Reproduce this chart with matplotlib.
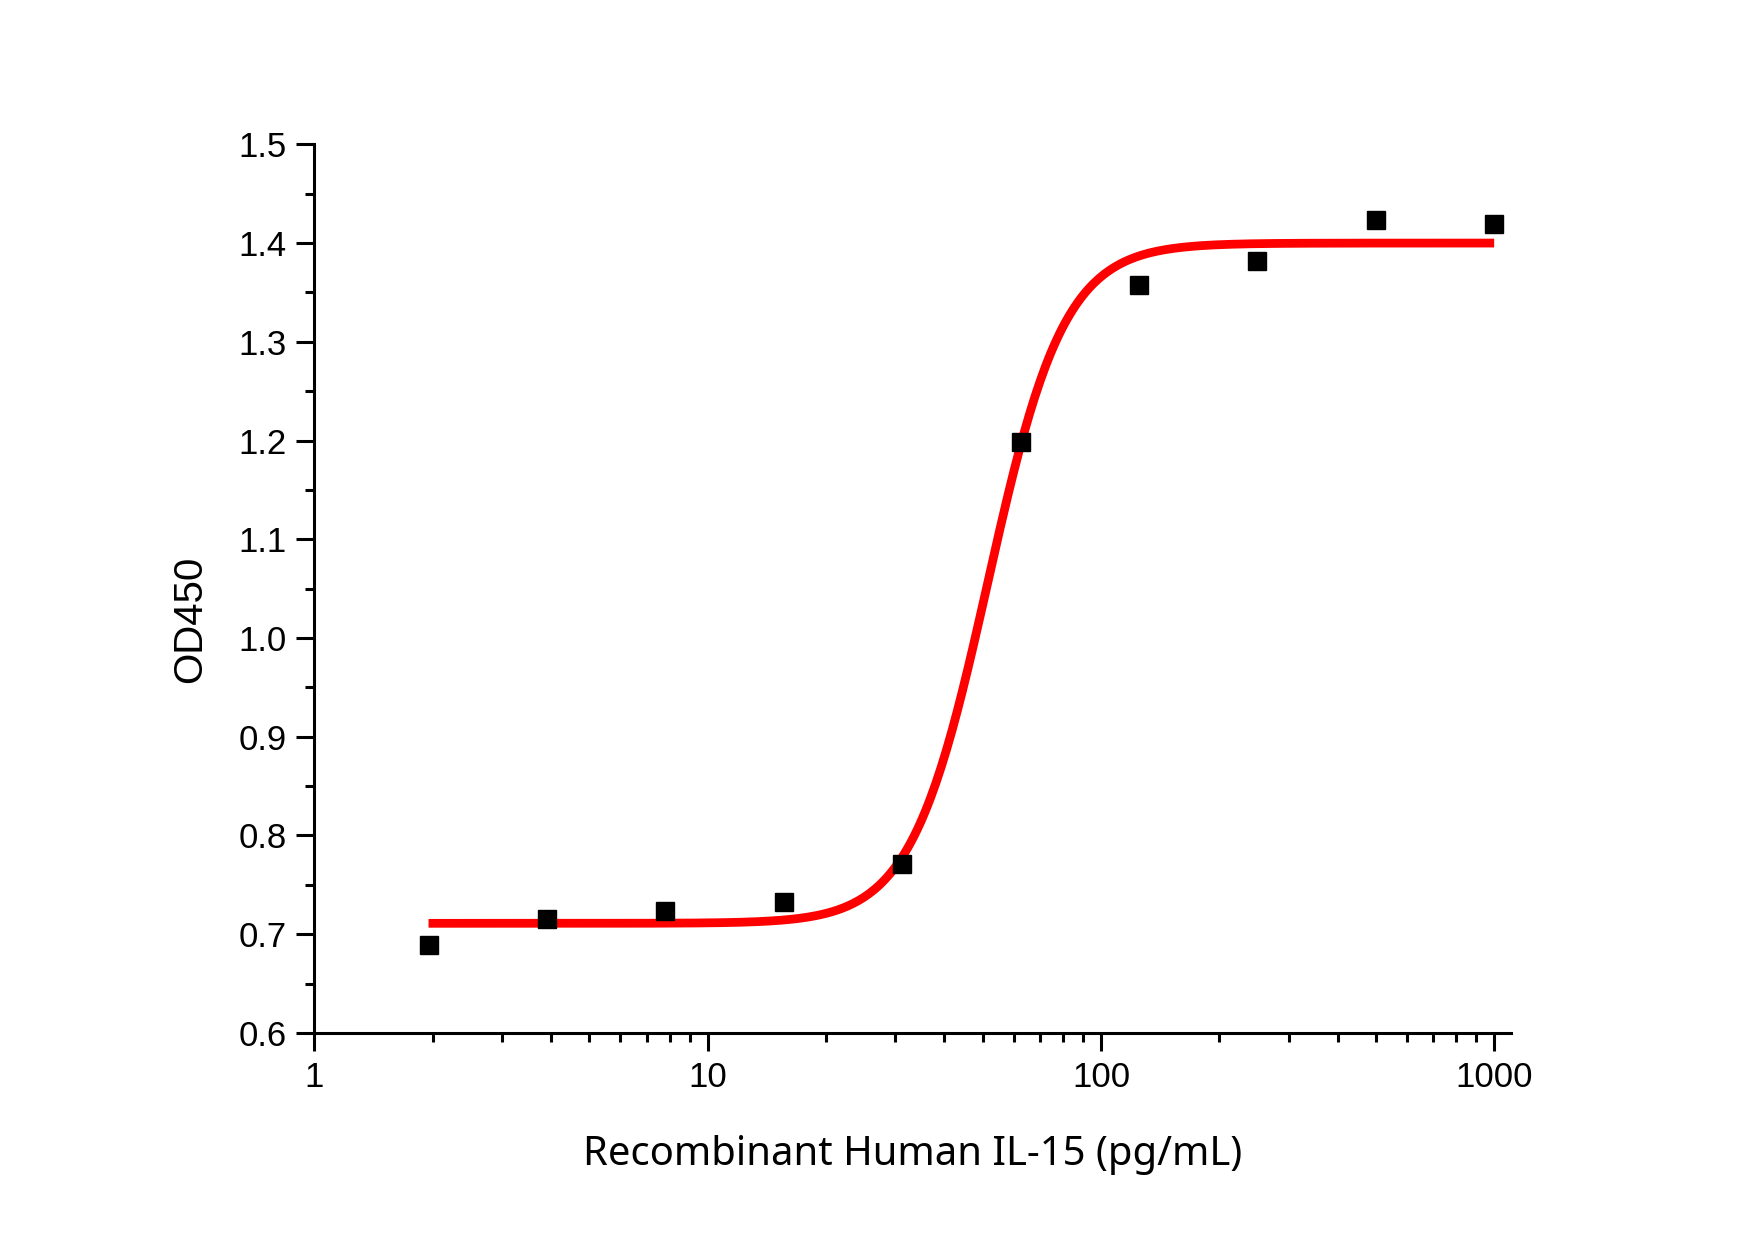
import numpy as np
import matplotlib.pyplot as plt
from matplotlib.ticker import MultipleLocator, LogLocator, NullFormatter, FixedLocator, FixedFormatter

# measured points
conc = [1.95, 3.9, 7.8, 15.6, 31.25, 62.5, 125, 250, 500, 1000]
od450 = [0.689, 0.715, 0.723, 0.733, 0.771, 1.199, 1.358, 1.382, 1.423, 1.419]

# 4PL fit parameters (bottom, top, EC50, hill)
fit_bottom = 0.711
fit_top = 1.400
fit_ec50 = 51.5
fit_hill = 4.45

x_ticks = [1, 10, 100, 1000]
x_ticklabels = ["1", "10", "100", "1000"]

plt.rcParams['font.family'] = ['Liberation Sans', 'DejaVu Sans']

fig = plt.figure(figsize=(17.55, 12.4), dpi=100)
ax = fig.add_axes([0.1792, 0.167, 0.6818, 0.7166])

xfit = np.logspace(np.log10(conc[0]), np.log10(conc[-1]), 400)
yfit = fit_bottom + (fit_top - fit_bottom) / (1 + (fit_ec50 / xfit) ** fit_hill)
ax.plot(xfit, yfit, color='#ff0000', lw=6.3, solid_capstyle='butt', zorder=2)
ax.plot(conc, od450, ls='none', marker='s', ms=13.5, color='black', zorder=3)

ax.set_xscale('log')
ax.set_xlim(1, 1104)
ax.set_ylim(0.6, 1.5)

ax.xaxis.set_major_locator(FixedLocator(x_ticks))
ax.xaxis.set_major_formatter(FixedFormatter(x_ticklabels))
ax.xaxis.set_minor_locator(LogLocator(base=10, subs=np.arange(2, 10)))
ax.xaxis.set_minor_formatter(NullFormatter())
ax.yaxis.set_major_locator(MultipleLocator(0.1))
ax.yaxis.set_minor_locator(MultipleLocator(0.05))
ax.yaxis.set_major_formatter(plt.FuncFormatter(lambda v, p: f"{v:.1f}"))

for side in ['top', 'right']:
    ax.spines[side].set_visible(False)
for side in ['left', 'bottom']:
    ax.spines[side].set_linewidth(2.2)

ax.tick_params(which='major', direction='out', length=13, width=2.2, labelsize=25, pad=7)
ax.tick_params(which='minor', direction='out', length=6.5, width=2.2)

ax.set_ylabel("OD450", fontsize=29)
ax.yaxis.set_label_coords(-0.088, 0.465)
ax.set_xlabel("Recombinant Human IL-15 (pg/mL)", fontsize=28.8, family=['Noto Sans', 'DejaVu Sans'])
ax.xaxis.set_label_coords(0.5, -0.115)

fig.savefig("out.png", dpi=100)
